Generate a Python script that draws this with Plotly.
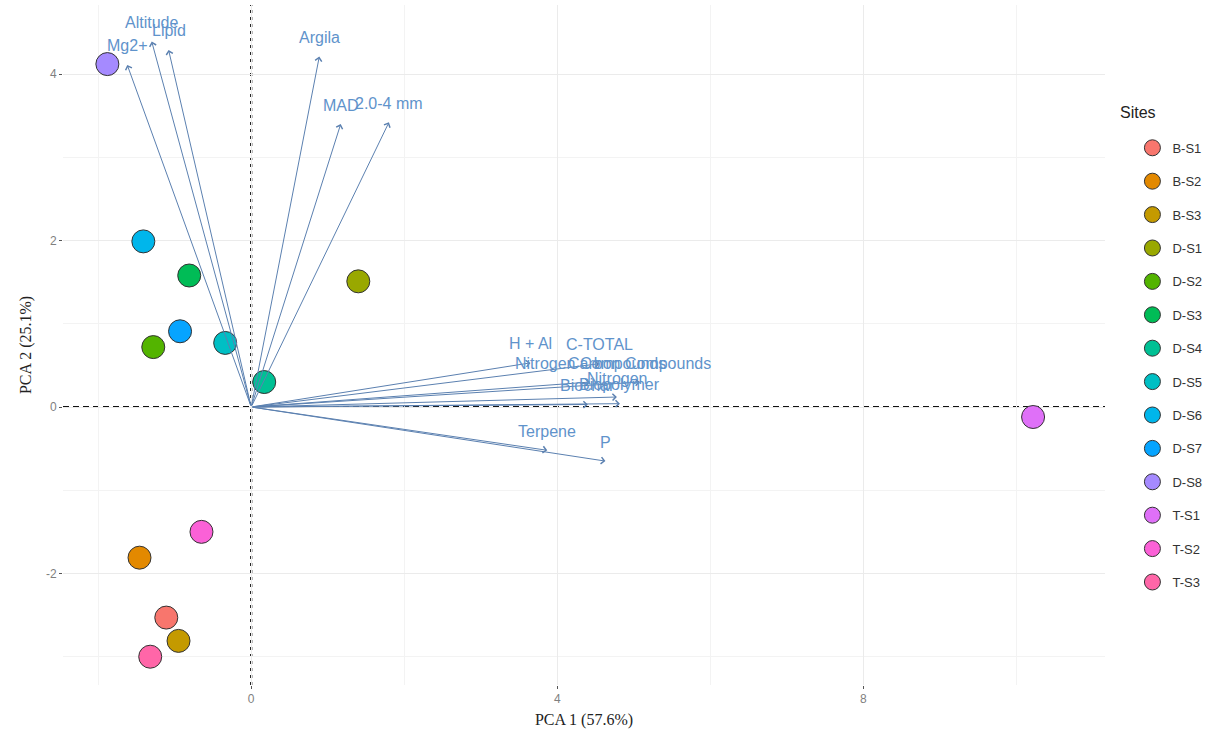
import plotly.graph_objects as go

# --- Data ---
sites = ["B-S1", "B-S2", "B-S3", "D-S1", "D-S2", "D-S3", "D-S4", "D-S5",
         "D-S6", "D-S7", "D-S8", "T-S1", "T-S2", "T-S3"]
pc1 = [-1.11, -1.46, -0.95, 1.40, -1.28, -0.81, 0.17, -0.34,
       -1.41, -0.93, -1.88, 10.22, -0.65, -1.32]
pc2 = [-2.53, -1.81, -2.81, 1.51, 0.72, 1.58, 0.30, 0.77,
       1.99, 0.91, 4.12, -0.12, -1.50, -3.00]
site_colors = ["#F8766D", "#E38900", "#C49A00", "#99A800", "#53B400", "#00BC56",
               "#00C094", "#00BFC4", "#00B6EB", "#06A4FF", "#A58AFF", "#DF70F8",
               "#FB61D7", "#FF66A8"]

variables = ["Mg2+", "Altitude", "Lipid", "Argila", "MAD", "2.0-4 mm",
             "H + Al", "C-TOTAL", "Nitrogen Compounds", "Carbon Compounds",
             "Nitrogen", "Biochar", "Biopolymer", "Terpene", "P"]
load1 = [-1.62, -1.30, -1.08, 0.89, 1.17, 1.80,
         3.65, 4.55, 4.43, 5.08, 4.78, 4.40, 4.82, 3.87, 4.63]
load2 = [4.11, 4.39, 4.29, 4.21, 3.40, 3.42,
         0.53, 0.52, 0.30, 0.30, 0.12, 0.03, 0.04, -0.52, -0.65]

x_ticks = [0, 4, 8]
y_ticks = [-2, 0, 2, 4]
legend_title = "Sites"

fig = go.Figure()

for s, a, b, c in zip(sites, pc1, pc2, site_colors):
    fig.add_trace(go.Scatter(
        x=[a], y=[b], mode="markers", name=s, legendgroup=s,
        marker=dict(size=23, color=c, line=dict(color="#333333", width=1)),
    ))

arrow_col = "#5B80B0"
label_col = "#5F93CB"
annotations = []
for v, a, b in zip(variables, load1, load2):
    annotations.append(dict(
        x=a, y=b, ax=0, ay=0, xref="x", yref="y", axref="x", ayref="y",
        showarrow=True, arrowhead=4, arrowsize=1.3, arrowwidth=1,
        arrowcolor=arrow_col, standoff=0, text="",
    ))
for v, a, b in zip(variables, load1, load2):
    annotations.append(dict(
        x=a, y=b, xref="x", yref="y", text=v, showarrow=False, yshift=19,
        font=dict(family="Liberation Sans, Arial", size=16, color=label_col),
    ))
annotations.append(dict(
    x=1.0125, y=0.8426, xref="paper", yref="paper", xanchor="left", yanchor="middle",
    text=legend_title, showarrow=False,
    font=dict(family="Liberation Sans, Arial", size=16, color="#222"),
))

shapes = [
    dict(type="line", xref="x", yref="paper", x0=0, x1=0, y0=0, y1=1,
         line=dict(color="#111111", width=2.2, dash="3px,4px"), layer="between"),
    dict(type="line", xref="paper", yref="y", x0=0, x1=1, y0=0, y1=0,
         line=dict(color="#111111", width=2, dash="6px,4px"), layer="between"),
]

fig.update_layout(
    width=1228, height=746,
    paper_bgcolor="white", plot_bgcolor="white",
    margin=dict(l=63, r=123, t=5, b=61),
    annotations=annotations, shapes=shapes,
    legend=dict(
        font=dict(family="Liberation Sans, Arial", size=13, color="#333"),
        x=1.01, xanchor="left", y=0.812, yanchor="top",
        tracegroupgap=13.5, itemsizing="trace", indentation=17,
    ),
    xaxis=dict(
        range=[-2.46, 11.16], tickvals=x_ticks, ticktext=[str(t) for t in x_ticks],
        showgrid=True, gridcolor="#EBEBEB", gridwidth=1.2, zeroline=False,
        showline=False, ticks="outside", ticklen=3, tickcolor="#555",
        tickfont=dict(family="Liberation Sans, Arial", size=12, color="#7F7F7F"),
        minor=dict(tickvals=[-2, 2, 6, 10], showgrid=True, gridcolor="#F3F3F3", gridwidth=1),
        title=dict(text="PCA 1 (57.6%)", standoff=8,
                   font=dict(family="Liberation Serif, Times New Roman", size=16, color="#222")),
    ),
    yaxis=dict(
        range=[-3.34, 4.83], tickvals=y_ticks, ticktext=[str(t) for t in y_ticks],
        showgrid=True, gridcolor="#EBEBEB", gridwidth=1.2, zeroline=False,
        showline=False, ticks="outside", ticklen=3, tickcolor="#555",
        tickfont=dict(family="Liberation Sans, Arial", size=12, color="#7F7F7F"),
        minor=dict(tickvals=[-3, -1, 1, 3], showgrid=True, gridcolor="#F3F3F3", gridwidth=1),
        title=dict(text="PCA 2 (25.1%)", standoff=10,
                   font=dict(family="Liberation Serif, Times New Roman", size=16, color="#222")),
    ),
)

fig.write_html("out.html")
